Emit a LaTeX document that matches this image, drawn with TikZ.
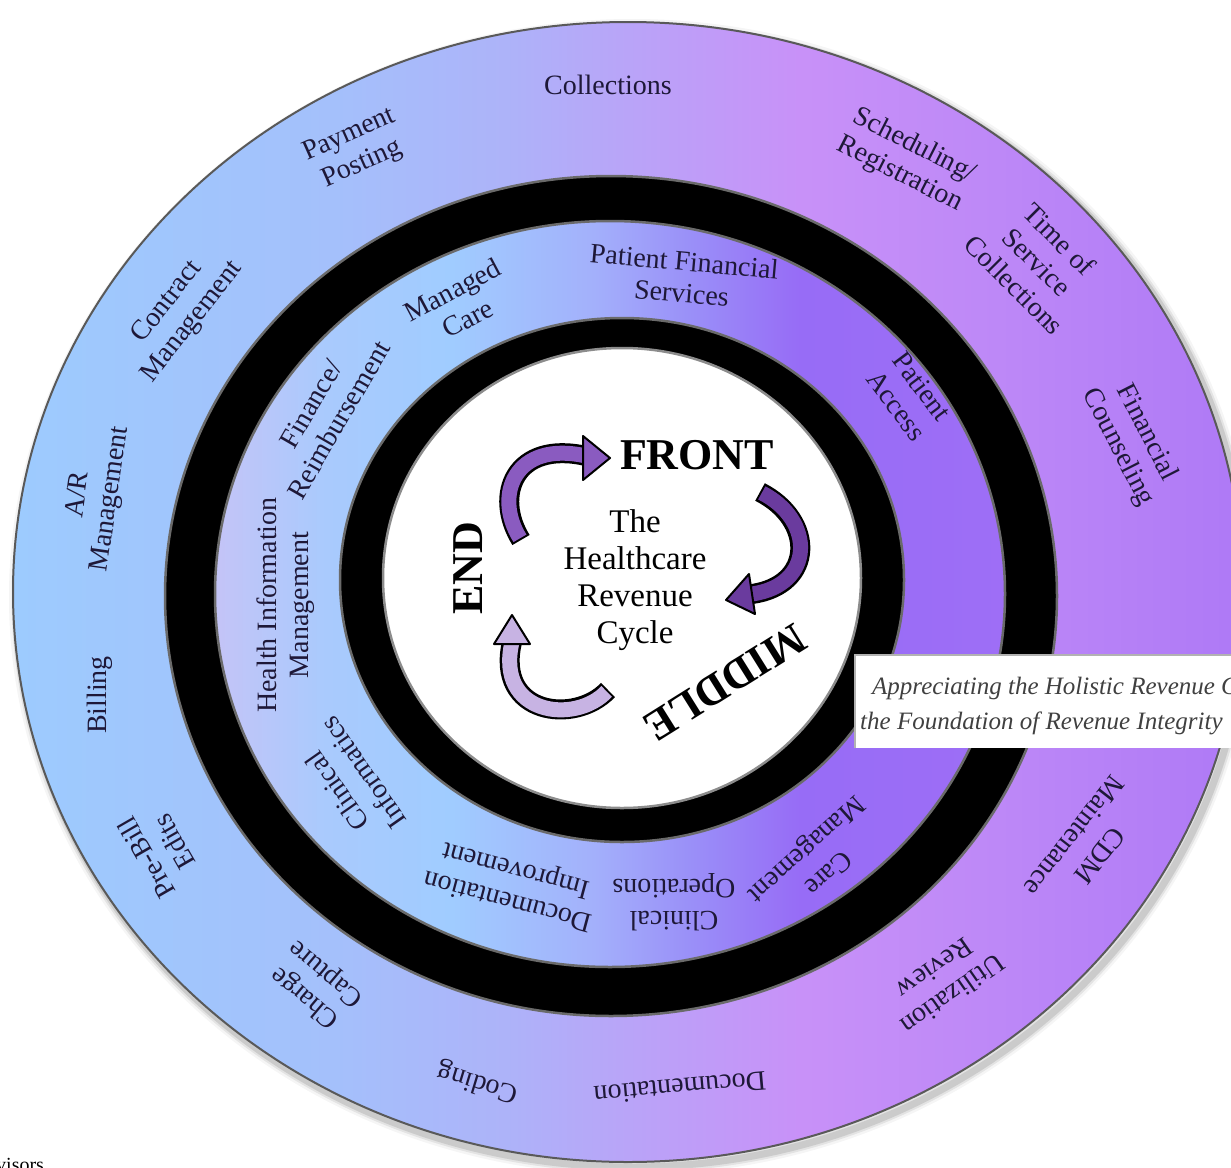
\documentclass[tikz,border=0pt]{standalone}
\usepackage{fontspec}
\setmainfont{Liberation Serif}
\definecolor{oc1}{HTML}{9DCBFE}
\definecolor{oc2}{HTML}{A4C0FB}
\definecolor{oc3}{HTML}{ADB3F9}
\definecolor{oc4}{HTML}{B9A4F8}
\definecolor{oc5}{HTML}{C891F8}
\definecolor{oc6}{HTML}{BD88F7}
\definecolor{oc7}{HTML}{AE79F6}
\definecolor{ic1}{HTML}{C4C4F7}
\definecolor{ic2}{HTML}{A9CAFD}
\definecolor{ic3}{HTML}{A0CCFF}
\definecolor{ic4}{HTML}{A3B0FB}
\definecolor{ic5}{HTML}{9A90F8}
\definecolor{ic6}{HTML}{976CF6}
\definecolor{ic7}{HTML}{9E6EF6}
\definecolor{labelc}{HTML}{1E1838}
\definecolor{arrA}{HTML}{8A5BC0}
\definecolor{arrB}{HTML}{6A3B9E}
\definecolor{arrC}{HTML}{C7B3E3}
\definecolor{rimc}{HTML}{6A6A6A}
\pgfdeclarehorizontalshading{outershade}{100bp}{color(0bp)=(oc1); color(25bp)=(oc1); color(38bp)=(oc2); color(45bp)=(oc3); color(50bp)=(oc4); color(57bp)=(oc5); color(65bp)=(oc6); color(75bp)=(oc7); color(100bp)=(oc7)}
\pgfdeclarehorizontalshading{innershade}{100bp}{color(0bp)=(ic1); color(25bp)=(ic1); color(32bp)=(ic2); color(40bp)=(ic3); color(49bp)=(ic4); color(55bp)=(ic5); color(62bp)=(ic6); color(75bp)=(ic7); color(100bp)=(ic7)}
\begin{document}
\begin{tikzpicture}[x=1pt,y=-1pt,
  lbl/.style={font=\fontsize{28}{32}\selectfont, align=center, text=labelc, inner sep=0pt},
  ctr/.style={font=\fontsize{33}{37}\selectfont, align=center, text=black, inner sep=0pt},
  big/.style={font=\bfseries\fontsize{44}{44}\selectfont, text=black, inner sep=0pt},
  band/.style={line width=20, black},
  bandfill/.style={line width=15, shorten <=2},
  head/.style={draw=black, line width=2, line join=round},
  rim/.style={draw=rimc, line width=2.5},
  bannertext/.style={anchor=base west, inner sep=0pt, font=\itshape\fontsize{25}{25}\selectfont, text=black!75}]
\useasboundingbox (0,0) rectangle (1231,1167);
\clip (0,0) rectangle (1231,1167);
\fill[white] (0,0) rectangle (1231,1167);
% outer ring with soft shadow
\foreach \ww/\oo in {16/0.04, 11/0.07, 7/0.1} \draw[black, opacity=\oo, line width=\ww] (632,597) ellipse [x radius=615, y radius=570];
\shade[shading=outershade] (628,592) ellipse [x radius=615, y radius=570];
\draw[black!65, line width=2] (628,592) ellipse [x radius=615, y radius=570];
% wide black band
\fill[black] (611,596) ellipse [x radius=446, y radius=420];
\draw[rim] (611,596) ellipse [x radius=446, y radius=420];
% inner ring
\shade[shading=innershade] (610,594) ellipse [x radius=395, y radius=373];
\draw[rim] (610,594) ellipse [x radius=395, y radius=373];
% inner black ring
\fill[black] (622,580) ellipse [x radius=282, y radius=262];
\draw[rim] (622,580) ellipse [x radius=282, y radius=262];
\fill[white] (622,578) ellipse [x radius=239, y radius=230];
\draw[draw=black!45, line width=2.5] (622,578) ellipse [x radius=239, y radius=230];

% outer ring labels
\node[lbl] (coll) at (608,85) {Collections};
\node[lbl, rotate=24] (paypost) at (356,150) {Payment\\Posting};
\node[lbl, rotate=-27] (sched) at (907,160) {Scheduling/\\Registration};
\node[lbl, rotate=-45] (tos) at (1037,262) {Time of\\Service\\Collections};
\node[lbl, rotate=-63] (fincoun) at (1132,440) {Financial\\Counseling};
\node[lbl, rotate=52] (contract) at (180,312) {Contract\\Management};
\node[lbl, rotate=82] (ar) at (95,497) {A/R\\Management};
\node[lbl, rotate=90] (billing) at (100,695) {Billing};
\node[lbl, rotate=120] (prebill) at (160,850) {Pre-Bill\\Edits};
\node[lbl, rotate=140] (charge) at (316,985) {Charge\\Capture};
\node[lbl, rotate=163] (coding) at (478,1082) {Coding};
\node[lbl, rotate=185] (docu) at (680,1088) {Documentation};
\node[lbl, rotate=215] (ur) at (944,982) {Utilization\\Review};
\node[lbl, rotate=232] (cdm) at (1087,846) {CDM\\Maintenance};

% inner ring labels
\node[lbl, rotate=-5] (pfs) at (683,277) {Patient Financial\\Services};
\node[lbl, rotate=28] (mc) at (460,304) {Managed\\Care};
\node[lbl, rotate=60] (fin) at (325,412) {Finance/\\Reimbursement};
\node[lbl, rotate=90] (him) at (286,605) {Health Information\\Management};
\node[lbl, rotate=125] (ci) at (350,782) {Clinical\\Informatics};
\node[lbl, rotate=165] (cdi) at (512,884) {Documentation\\Improvement};
\node[lbl, rotate=180] (cops) at (674,902) {Clinical\\Operations};
\node[lbl, rotate=222] (care) at (816,860) {Care\\Management};
\node[lbl, rotate=-53] (pa) at (909,396) {Patient\\Access};

% centre
\node[ctr] (title) at (635,580) {The\\Healthcare\\Revenue\\Cycle};
\node[big] (front) at (697,455) {FRONT};
\node[big, rotate=90] (endn) at (468,568) {END};
\node[big, rotate=-148] (middle) at (725,683) {MIDDLE};

% cycle arrows
\draw[band] (521,540) .. controls (493,495) and (515,440) .. (586,456);
\draw[bandfill, arrA] (521,540) .. controls (493,495) and (515,440) .. (586,456);
\filldraw[head, fill=arrA] (583,436) -- (610,458) -- (583,480) -- cycle;

\draw[band] (760,492) .. controls (815,520) and (815,585) .. (752,594);
\draw[bandfill, arrB] (760,492) .. controls (815,520) and (815,585) .. (752,594);
\filldraw[head, fill=arrB] (749,574) -- (726,600) -- (755,614) -- cycle;

\draw[band] (608,690) .. controls (575,725) and (495,715) .. (512,642);
\draw[bandfill, arrC] (608,690) .. controls (575,725) and (495,715) .. (512,642);
\filldraw[head, fill=arrC] (494,644) -- (512,615) -- (530,644) -- cycle;

% banner
\fill[white] (855,655) rectangle (1240,748);
\draw[black!30, line width=1.5] (1240,655) -- (855,655) -- (855,748);
\node[bannertext] (ban1) at (872,694) {Appreciating the Holistic Revenue C};
\node[bannertext] (ban2) at (860,729) {the Foundation of Revenue Integrity};

% cut-off footer text
\node[anchor=base west, inner sep=0pt, font=\fontsize{20}{20}\selectfont] (foot) at (-4,1171) {visors};
\end{tikzpicture}
\end{document}
